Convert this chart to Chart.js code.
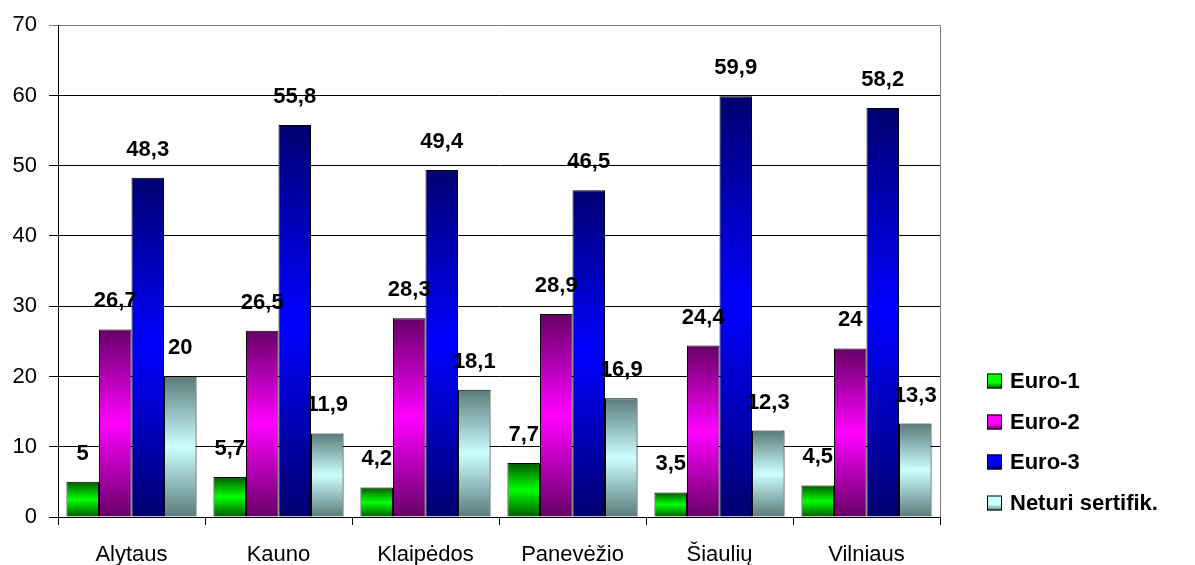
<!DOCTYPE html>
<html>
<head>
<meta charset="utf-8">
<script src="https://cdn.jsdelivr.net/npm/chart.js@4"></script>
<style>
  html, body { margin: 0; padding: 0; background: #fff; }
  #wrap { width: 1195px; height: 565px; }
</style>
</head>
<body>
<div id="wrap"><canvas id="myChart" width="1195" height="565"></canvas></div>
<script>
var cities = ["Alytaus", "Kauno", "Klaipėdos", "Panevėžio", "Šiaulių", "Vilniaus"];
var euro1 = [5, 5.7, 4.2, 7.7, 3.5, 4.5];
var euro2 = [26.7, 26.5, 28.3, 28.9, 24.4, 24];
var euro3 = [48.3, 55.8, 49.4, 46.5, 59.9, 58.2];
var neturi = [20, 11.9, 18.1, 16.9, 12.3, 13.3];
var seriesNames = ["Euro-1", "Euro-2", "Euro-3", "Neturi sertifik."];
var yTicks = [0, 10, 20, 30, 40, 50, 60, 70];

var FONT = "'Liberation Sans', Arial, sans-serif";

// dark edges, bright middle (like the excel fill)
function grad(dark, light) {
  return function(c) {
    var chart = c.chart, y = chart.scales.y;
    if (!chart.chartArea || !y || c.raw === undefined) return light;
    var top = y.getPixelForValue(c.raw), base = y.getPixelForValue(0);
    if (!isFinite(top) || !isFinite(base) || top === base) return light;
    var g = chart.ctx.createLinearGradient(0, top, 0, base);
    g.addColorStop(0, dark);
    g.addColorStop(0.5, light);
    g.addColorStop(1, dark);
    return g;
  };
}

var colors = [
  { dark: "#005a00", light: "#00ff00" },
  { dark: "#660066", light: "#ff00ff" },
  { dark: "#000070", light: "#0000ff" },
  { dark: "#5a7a7a", light: "#ccffff" }
];

// values above bars, with comma decimals
var valueLabels = {
  id: "valueLabels",
  afterDatasetsDraw: function(chart) {
    var ctx = chart.ctx;
    ctx.save();
    ctx.font = "bold 22px " + FONT;
    ctx.fillStyle = "#000";
    ctx.textAlign = "center";
    ctx.textBaseline = "alphabetic";
    chart.data.datasets.forEach(function(ds, i) {
      chart.getDatasetMeta(i).data.forEach(function(bar, j) {
        var txt = String(ds.data[j]).replace(".", ",");
        ctx.fillText(txt, bar.x, bar.y - 22);
      });
    });
    ctx.restore();
  }
};

// plot frame (grey right edge) and the legend on the right
var frameAndLegend = {
  id: "frameAndLegend",
  afterDraw: function(chart) {
    var ctx = chart.ctx, a = chart.chartArea;
    ctx.save();
    ctx.strokeStyle = "#808080";
    ctx.lineWidth = 1;
    ctx.beginPath();
    ctx.moveTo(Math.round(a.right) + 0.5, a.top);
    ctx.lineTo(Math.round(a.right) + 0.5, a.bottom);
    ctx.stroke();

    ctx.font = "bold 22px " + FONT;
    ctx.textBaseline = "middle";
    ctx.textAlign = "left";
    var x0 = 987, y0 = 381, step = 40.5, box = 15;
    chart.data.datasets.forEach(function(ds, i) {
      var yc = Math.round(y0 + i * step);
      var g = ctx.createLinearGradient(0, yc - box / 2, 0, yc + box / 2);
      g.addColorStop(0, colors[i].light);
      g.addColorStop(0.6, colors[i].light);
      g.addColorStop(1, colors[i].dark);
      ctx.fillStyle = g;
      ctx.fillRect(x0, yc - box / 2, box, box);
      ctx.strokeStyle = "#000";
      ctx.strokeRect(x0 + 0.5, yc - box / 2 + 0.5, box - 1, box - 1);
      ctx.fillStyle = "#000";
      ctx.fillText(ds.label, x0 + box + 8, yc + 1);
    });
    ctx.restore();
  }
};

var ctx = document.getElementById("myChart").getContext("2d");

var myChart = new Chart(ctx, {
  type: "bar",
  data: {
    labels: cities,
    datasets: [euro1, euro2, euro3, neturi].map(function(vals, i) {
      return {
        label: seriesNames[i],
        data: vals,
        backgroundColor: grad(colors[i].dark, colors[i].light),
        borderColor: "#000",
        borderWidth: 1,
        categoryPercentage: 0.885,
        barPercentage: 1.0
      };
    })
  },
  options: {
    responsive: false,
    animation: false,
    layout: { padding: { top: 23, right: 255, left: 0, bottom: 0 } },
    plugins: {
      legend: { display: false },
      tooltip: { enabled: false }
    },
    scales: {
      x: {
        grid: { drawOnChartArea: false, color: "#000", tickLength: 8, offset: true },
        border: { color: "#000", width: 1 },
        ticks: { color: "#000", font: { family: FONT, size: 22 }, padding: 17 },
        afterFit: function(s) { s.height = 48; }
      },
      y: {
        min: 0,
        max: 70,
        afterBuildTicks: function(s) {
          s.ticks = yTicks.map(function(v) { return { value: v }; });
        },
        grid: {
          color: function(c) { return c.tick && c.tick.value === 70 ? "#808080" : "#000"; },
          tickLength: 9
        },
        border: { color: "#000", width: 1 },
        ticks: { color: "#000", font: { family: FONT, size: 22 }, padding: 12 },
        afterFit: function(s) { s.width = 58; }
      }
    }
  },
  plugins: [valueLabels, frameAndLegend]
});
</script>
</body>
</html>
